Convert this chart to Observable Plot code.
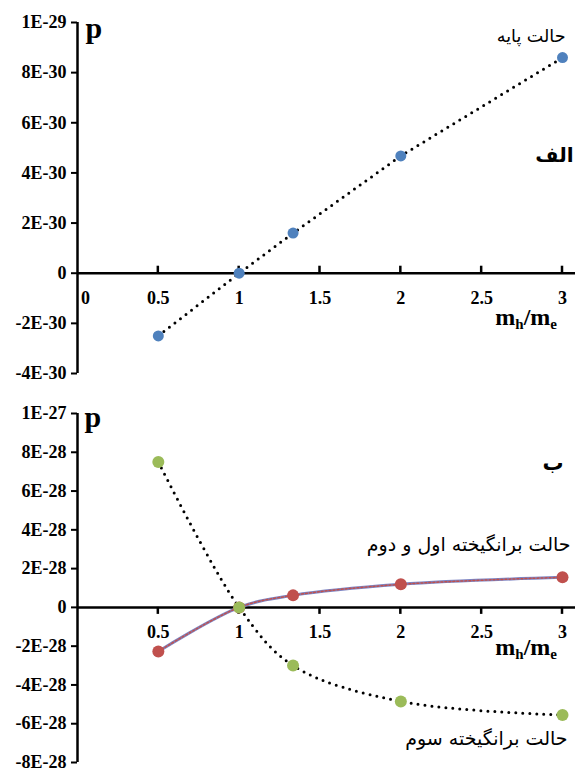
<!DOCTYPE html>
<html><head><meta charset="utf-8">
<script src="https://cdn.jsdelivr.net/npm/d3@7"></script>
<script src="https://cdn.jsdelivr.net/npm/@observablehq/plot@0.6"></script>
<style>
body{margin:0;background:#fff}
#chart{position:relative;width:575px;height:772px;overflow:hidden;background:#fff}
#chart svg{position:absolute;left:0}
</style></head><body><div id="chart"></div>
<script>
// mass ratio m_h/m_e at which p was evaluated
const massRatio = [0.5, 1, 4 / 3, 2, 3];

// (a) ground state
const groundP = [-2.5e-30, 0, 1.6e-30, 4.68e-30, 8.6e-30];
// (b) first & second excited states, third excited state
const excited12P = [-2.27e-28, 0, 0.62e-28, 1.19e-28, 1.55e-28];
const excited3P = [7.5e-28, 0, -3.0e-28, -4.85e-28, -5.55e-28];

// axis ticks and their labels
const xTicks = [0.5, 1, 1.5, 2, 2.5, 3];
const xTickLabels = ["0.5", "1", "1.5", "2", "2.5", "3"];
const topYTicks = [-4e-30, -2e-30, 0, 2e-30, 4e-30, 6e-30, 8e-30, 1e-29];
const topYLabels = ["-4E-30", "-2E-30", "0", "2E-30", "4E-30", "6E-30", "8E-30", "1E-29"];
const botYTicks = [-8e-28, -6e-28, -4e-28, -2e-28, 0, 2e-28, 4e-28, 6e-28, 8e-28, 1e-27];
const botYLabels = ["-8E-28", "-6E-28", "-4E-28", "-2E-28", "0", "2E-28", "4E-28", "6E-28", "8E-28", "1E-27"];

const serif = "'Liberation Serif', 'Times New Roman', serif";
const arabic = "'DejaVu Sans', sans-serif";

const ground = massRatio.map((m, i) => ({m, p: groundP[i]}));
const ex12 = massRatio.map((m, i) => ({m, p: excited12P[i]}));
const ex3 = massRatio.map((m, i) => ({m, p: excited3P[i]}));

// x-axis tick marks drawn on the p = 0 line (dir: -1 up, +1 down)
function zeroAxisTicks(values, dir) {
  return (index, scales) => {
    const g = d3.create("svg:g").attr("stroke", "black").attr("stroke-width", 2.5);
    const y0 = scales.y(0);
    for (const v of values) {
      const x = scales.x(v);
      g.append("line").attr("x1", x).attr("x2", x).attr("y1", y0).attr("y2", y0 + dir * 7);
    }
    return g.node();
  };
}

// "m_h/m_e" axis title with subscripts
function ratioTitle(dy) {
  return (index, scales) => {
    const t = d3.create("svg:text")
      .attr("x", scales.x(3) - 5).attr("y", scales.y(0) + dy)
      .attr("text-anchor", "end").attr("font-family", serif)
      .attr("font-weight", "bold").attr("font-size", 24).attr("fill", "black");
    t.append("tspan").text("m");
    t.append("tspan").attr("font-size", 15).attr("dy", 4).text("h");
    t.append("tspan").attr("dy", -4).text("/m");
    t.append("tspan").attr("font-size", 15).attr("dy", 4).text("e");
    return t.node();
  };
}

const dotted = {stroke: "black", strokeWidth: 3, strokeDasharray: "0,7", strokeLinecap: "round"};

function yAxis(ticks, labels) {
  return Plot.axisY({
    ticks, tickFormat: d => labels[ticks.indexOf(d)],
    tickSize: 6, tickPadding: 5, strokeWidth: 2,
    fontSize: 18, fontWeight: "bold", fontFamily: serif, label: null
  });
}

// (a) ground state
const topPlot = Plot.plot({
  width: 575, height: 390,
  marginLeft: 77, marginRight: 13, marginTop: 22, marginBottom: 17,
  x: {domain: [0, 3], axis: null},
  y: {domain: [-4e-30, 1e-29]},
  style: {fontFamily: serif, background: "transparent", overflow: "visible"},
  marks: [
    yAxis(topYTicks, topYLabels),
    Plot.ruleX([0], {strokeWidth: 2.5}),
    Plot.ruleY([0], {strokeWidth: 2.5, insetRight: -13}),
    zeroAxisTicks(xTicks, -1),
    Plot.text(xTicks, {x: d => d, y: 0, dy: 25, text: (d, i) => xTickLabels[i], fontSize: 18, fontWeight: "bold"}),
    Plot.text(["0"], {x: 0, y: 0, dx: 8, dy: 25, text: d => d, fontSize: 18, fontWeight: "bold"}),
    ratioTitle(52),
    Plot.line(ground, {x: "m", y: "p", ...dotted}),
    Plot.dot(ground, {x: "m", y: "p", r: 5.5, fill: "#4f81bd"}),
    Plot.text(["p"], {frameAnchor: "top-left", dx: 8, dy: -6, text: d => d, fontSize: 30, fontWeight: "bold", textAnchor: "start"}),
    Plot.text(["حالت پایه"], {frameAnchor: "top-right", dx: 3, dy: 7, text: d => d, fontSize: 17.5, fontFamily: arabic, textAnchor: "end"}),
    Plot.text(["الف"], {frameAnchor: "top-right", dx: 11, dy: 125, text: d => d, fontSize: 20, fontWeight: "bold", fontFamily: arabic, textAnchor: "end"})
  ]
});
topPlot.style.top = "0px";

// (b) excited states
const botPlot = Plot.plot({
  width: 575, height: 382,
  marginLeft: 77, marginRight: 13, marginTop: 23, marginBottom: 10,
  x: {domain: [0, 3], axis: null},
  y: {domain: [-8e-28, 1e-27]},
  style: {fontFamily: serif, background: "transparent", overflow: "visible"},
  marks: [
    yAxis(botYTicks, botYLabels),
    Plot.ruleX([0], {strokeWidth: 2.5}),
    Plot.ruleY([0], {strokeWidth: 2.5, insetRight: -13}),
    zeroAxisTicks(xTicks, 1),
    Plot.text(xTicks, {x: d => d, y: 0, dy: 25, text: (d, i) => xTickLabels[i], fontSize: 18, fontWeight: "bold"}),
    ratioTitle(48),
    Plot.line(ex3, {x: "m", y: "p", curve: "catmull-rom", ...dotted}),
    Plot.line(ex12, {x: "m", y: "p", curve: "catmull-rom", stroke: "#7d84c2", strokeWidth: 3}),
    Plot.line(ex12, {x: "m", y: "p", curve: "catmull-rom", stroke: "#c0504d", strokeWidth: 1.5, strokeDasharray: "2,2"}),
    Plot.dot(ex12, {x: "m", y: "p", r: 6, fill: "#c0504d"}),
    Plot.dot(ex3, {x: "m", y: "p", r: 6, fill: "#9bbb59"}),
    Plot.text(["p"], {frameAnchor: "top-left", dx: 7, dy: -8, text: d => d, fontSize: 30, fontWeight: "bold", textAnchor: "start"}),
    Plot.text(["ب"], {frameAnchor: "top-right", dx: 1, dy: 42, text: d => d, fontSize: 21, fontWeight: "bold", fontFamily: arabic, textAnchor: "end"}),
    Plot.text(["حالت برانگیخته اول و دوم"], {frameAnchor: "top-right", dx: 8, dy: 124, text: d => d, fontSize: 19, fontFamily: arabic, textAnchor: "end"}),
    Plot.text(["حالت برانگیخته سوم"], {frameAnchor: "top-right", dx: 5, dy: 318, text: d => d, fontSize: 19, fontFamily: arabic, textAnchor: "end"})
  ]
});
botPlot.style.top = "390px";

const chart = document.getElementById("chart");
chart.append(topPlot, botPlot);
</script>
</body></html>
